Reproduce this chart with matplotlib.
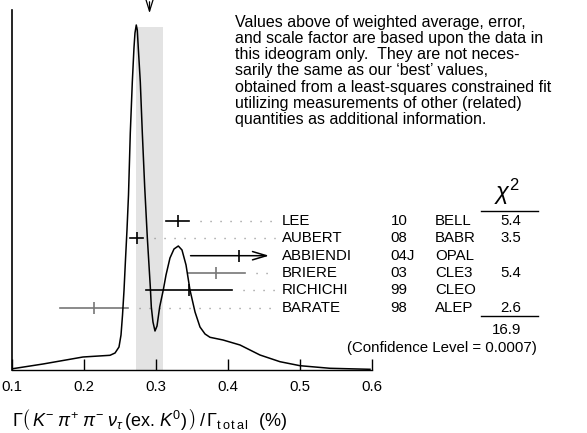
import matplotlib
matplotlib.use('Agg')
import matplotlib.pyplot as plt

plt.rcParams['font.family'] = ['Liberation Sans', 'DejaVu Sans']
plt.rcParams['mathtext.fontset'] = 'custom'
plt.rcParams['mathtext.rm'] = 'Liberation Sans'
plt.rcParams['mathtext.it'] = 'Liberation Sans:italic'
plt.rcParams['mathtext.sf'] = 'Liberation Sans'

# measurements
authors = ['LEE', 'AUBERT', 'ABBIENDI', 'BRIERE', 'RICHICHI', 'BARATE']
years = ['10', '08', '04J', '03', '99', '98']
expts = ['BELL', 'BABR', 'OPAL', 'CLE3', 'CLEO', 'ALEP']
values = [0.330, 0.273, 0.415, 0.384, 0.346, 0.214]
errors = [0.016, 0.009, 0.067, 0.040, 0.060, 0.047]
colors = ['black', 'black', 'black', '#777777', 'black', '#777777']
chi2 = ['5.4', '3.5', '', '5.4', '', '2.6']
chi2_total = '16.9'
conf_text = '(Confidence Level = 0.0007)'

avg = 0.291
avg_err = 0.0185

# ideogram curve (value, height)
ideo_x = [0.1010, 0.1431, 0.1986, 0.2361, 0.2431, 0.2486, 0.2514, 0.2535, 0.2556,
          0.2576, 0.2597, 0.2618, 0.2643, 0.2671, 0.2694, 0.2708, 0.2726, 0.2740,
          0.2754, 0.2782, 0.2810, 0.2843, 0.2879, 0.2921, 0.2935, 0.2958, 0.2986,
          0.3014, 0.3051, 0.3101, 0.3139, 0.3194, 0.3250, 0.3310, 0.3361, 0.3417,
          0.3472, 0.3542, 0.3611, 0.3681, 0.3750, 0.3931, 0.4167, 0.4444, 0.4722,
          0.5000, 0.5417, 0.5972]
ideo_y = [1.3, 6, 13, 14.7, 17, 23, 35, 55, 80,
          110, 140, 175, 237, 288, 322, 337, 345, 340,
          322, 288, 237, 183, 133, 83, 63, 48, 39,
          44, 63, 80, 95, 112, 121, 124, 120, 105,
          80, 58, 43, 36, 32.7, 30, 25, 15, 8.3,
          4.3, 1.7, 0.7]

note = ['Values above of weighted average, error,',
        'and scale factor are based upon the data in',
        'this ideogram only.  They are not neces-',
        'sarily the same as our \u2018best\u2019 values,',
        'obtained from a least-squares constrained fit',
        'utilizing measurements of other (related)',
        'quantities as additional information.']

xlabel = (r'$\Gamma\left(\,K^{-}\;\pi^{+}\;\pi^{-}\;\nu_{\tau}\,(\mathrm{ex.}\,K^{0})\,\right)'
          r'\,/\,\Gamma_{\mathrm{t\,o\,t\,a\,l}}$  (%)')

fig = plt.figure(figsize=(5.87, 4.33), dpi=100)
ax = fig.add_axes([12 / 587, 63 / 433, 360 / 587, 370 / 433])
ax.set_xlim(0.1, 0.6)
ax.set_ylim(0, 370)

fs = 10.8

# average band + arrow
ax.axvspan(avg - avg_err, avg + avg_err, ymin=0, ymax=343 / 370, color='#e3e3e3', lw=0, zorder=0)
ax.annotate('', xy=(avg, 354), xytext=(avg, 371), annotation_clip=False,
            arrowprops=dict(arrowstyle='->, head_length=0.8, head_width=0.25', color='black', lw=0.9))

ax.plot(ideo_x, ideo_y, color='black', lw=1.1, zorder=3)

label_x = 0.4746
dot_end = 0.4653
arrow_clip = 0.457
row_y = [149 - 17.35 * i for i in range(len(authors))]

for i, (v, e, c) in enumerate(zip(values, errors, colors)):
    y = row_y[i]
    lo, hi = v - e, v + e
    if hi > arrow_clip:
        hi = arrow_clip
        ax.annotate('', xy=(hi, y), xytext=(lo, y), annotation_clip=False,
                    arrowprops=dict(arrowstyle='->, head_length=1.0, head_width=0.3',
                                    color=c, lw=1.1, shrinkA=0, shrinkB=0))
    else:
        ax.plot([lo, hi], [y, y], color=c, lw=1.2, zorder=2)
    ax.plot([v], [y], marker='|', ms=9, mew=1.2, color=c, zorder=2)
    if dot_end - (hi + 0.015) > 0.005:
        ax.plot([hi + 0.015, dot_end], [y, y], color='#888888', lw=1,
                linestyle=(0, (0.8, 6.4)), zorder=1)
    ax.text(label_x, y, authors[i], fontsize=fs, va='center', ha='left')
    ax.text(0.626, y, years[i], fontsize=fs, va='center', ha='left')
    ax.text(0.6875, y, expts[i], fontsize=fs, va='center', ha='left')
    ax.text(0.807, y, chi2[i], fontsize=fs, va='center', ha='right')

# chi2 column
ax.text(0.7875, 178, r'$\chi^2$', fontsize=17, va='center', ha='center')
ax.plot([0.7514, 0.830], [159.3, 159.3], color='black', lw=1, clip_on=False)
ax.plot([0.7514, 0.830], [54.3, 54.3], color='black', lw=1, clip_on=False)
ax.text(0.807, 40, chi2_total, fontsize=fs, va='center', ha='right')
ax.text(0.829, 22, conf_text, fontsize=fs, va='center', ha='right')

# note block
for k, line in enumerate(note):
    ax.text(0.4097, 347.3 - 16.1 * k, line, fontsize=11.5, va='center', ha='left')

for s in ['top', 'right']:
    ax.spines[s].set_visible(False)
ax.spines['left'].set_bounds(0, 360)
ax.spines['left'].set_linewidth(1.2)
ax.spines['bottom'].set_linewidth(1)
ax.set_yticks([])
ax.set_xticks([0.1, 0.2, 0.3, 0.4, 0.5, 0.6])
ax.set_xticklabels(['0.1', '0.2', '0.3', '0.4', '0.5', '0.6'])
ax.tick_params(axis='x', direction='in', length=8, width=1, labelsize=fs, pad=7)
for t in ax.texts:
    t.set_clip_on(False)

fig.text(12 / 587, 1 - 420 / 433, xlabel, fontsize=13, va='center', ha='left')

fig.savefig('out.png', dpi=100)
